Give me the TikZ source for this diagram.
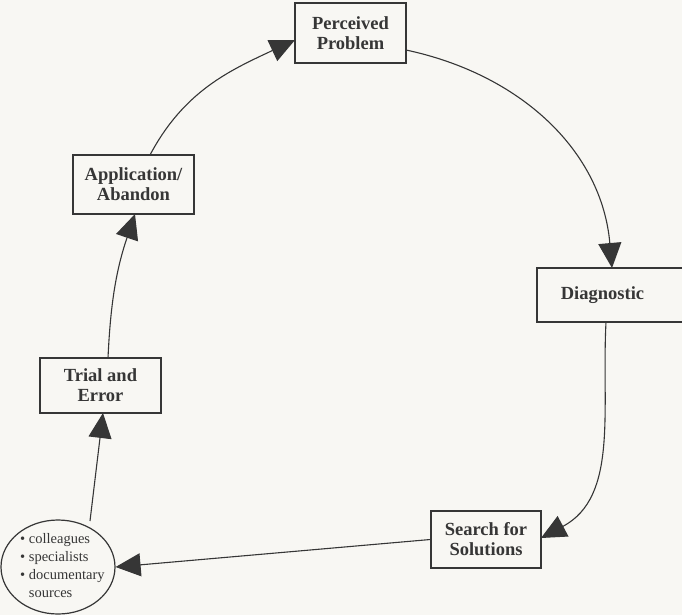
\documentclass[tikz,border=0pt]{standalone}
\usepackage{fontspec}
\setmainfont{Liberation Serif}
\usetikzlibrary{arrows.meta,shapes.geometric}
\definecolor{ink}{HTML}{363636}
\definecolor{paper}{HTML}{F8F7F3}

\begin{document}
\begin{tikzpicture}[x=1pt,y=1pt,
  stage/.style={draw=ink, line width=1.4pt, fill=paper, text=ink,
    font=\bfseries\fontsize{18.5}{20}\selectfont, align=center, inner sep=0pt},
  source/.style={draw=ink, line width=1.2pt, fill=paper,
    ellipse, inner sep=0pt, minimum width=114pt, minimum height=94pt},
  listing/.style={text=ink, font=\fontsize{14.5}{18}\selectfont,
    align=left, inner sep=0pt},
  flow/.style={draw=ink, line width=1.1pt,
    -{Triangle[length=25pt,width=23pt]}},
]
% page
\fill[paper] (0,0) rectangle (682,-615);
\useasboundingbox (0,0) rectangle (682,-615);

% stages of the cycle
\node[stage, minimum width=111pt, minimum height=60pt] (perc) at (350.5,-33) {Perceived\\Problem};
\node[stage, minimum width=147pt, minimum height=54pt] (diag) at (610.5,-295) {Diagnostic\hspace{16pt}};
\node[stage, minimum width=110pt, minimum height=57pt] (search) at (486,-539.5) {Search for\\Solutions};
\node[stage, minimum width=121pt, minimum height=55pt] (trial) at (100.5,-385.5) {Trial and\\Error};
\node[stage, minimum width=121pt, minimum height=59pt] (appl) at (133.5,-184.5) {Application/\\Abandon};

% where solutions come from
\node[source] (src) at (58,-567) {};
\node[listing, anchor=west] (srclist) at (20,-566) {%
  \textbullet\ colleagues\\
  \textbullet\ specialists\\
  \textbullet\ documentary\\
  \phantom{\textbullet\ }sources};

% connectors
\coordinate (applTop) at (150,-155);
\coordinate (percIn) at (295,-40);
\coordinate (percOut) at (406,-50);
\coordinate (diagIn) at (612,-268);
\coordinate (diagOut) at (606,-322);
\coordinate (searchIn) at (541,-538);
\coordinate (srcTop) at (90,-521);
\coordinate (trialIn) at (103,-413);
\coordinate (trialOut) at (108,-358);
\coordinate (applIn) at (135,-214);

\draw[flow] (applTop) to[out=62,in=205] (percIn);
\draw[flow] (percOut) to[out=-12,in=95] (diagIn);
\draw[flow] (diagOut) to[out=-93,in=28] (searchIn);
\draw[flow] (search.west) -- (src.east);
\draw[flow] (srcTop) -- (trialIn);
\draw[flow] (trialOut) to[bend left=8] (applIn);
\end{tikzpicture}
\end{document}
